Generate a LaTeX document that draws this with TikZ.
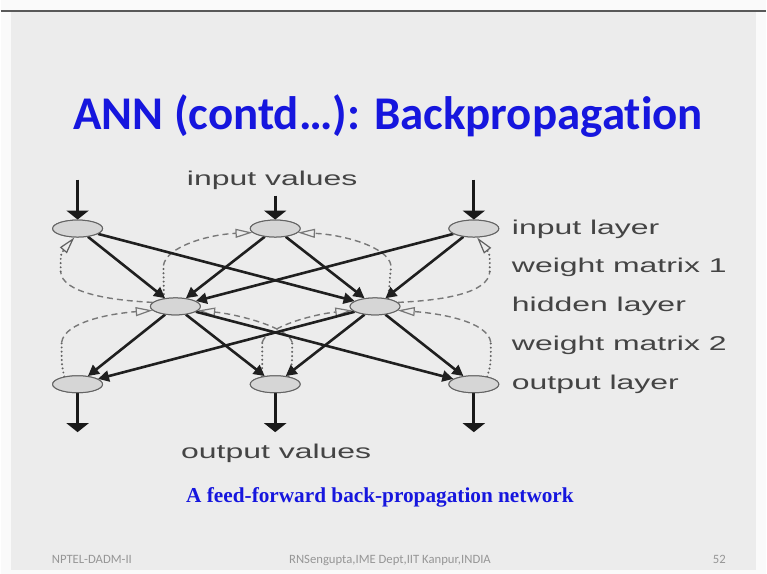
\documentclass[tikz,border=0pt]{standalone}
\usepackage{fontspec}
\setmainfont{Carlito}[Ligatures=NoCommon]
\newfontfamily\lblfont[FakeStretch=1.6]{Liberation Sans}
\newfontfamily\capfont{Liberation Serif}
\usetikzlibrary{arrows.meta,shapes.geometric}

\definecolor{pagewhite}{RGB}{250,250,250}
\definecolor{slidebg}{RGB}{236,236,236}
\definecolor{titleblue}{RGB}{22,22,222}
\definecolor{nodefill}{RGB}{214,214,214}
\definecolor{nodeedge}{RGB}{100,100,100}
\definecolor{labelgray}{RGB}{68,68,68}
\definecolor{backgray}{RGB}{120,120,120}
\definecolor{footgray}{RGB}{150,150,150}

\tikzset{
  neuron/.style={ellipse, draw=nodeedge, fill=nodefill, line width=1pt,
    minimum width=50pt, minimum height=17pt, inner sep=0pt},
  layerlabel/.style={anchor=base west, inner sep=0pt, text=labelgray,
    font=\lblfont\fontsize{20}{20}\selectfont},
  valuelabel/.style={anchor=base, inner sep=0pt, text=labelgray,
    font=\lblfont\fontsize{20}{20}\selectfont},
  weightline/.style={draw=black!88, line width=2.6pt,
    -{Triangle[length=11pt,width=11pt]}},
  ioarrow/.style={draw=black!90, line width=2.8pt,
    -{Triangle[length=9pt,width=22pt]}},
  backdash/.style={draw=backgray, line width=1.4pt, dash pattern=on 6pt off 4pt},
  backdot/.style={draw=backgray!80!black, line width=2.2pt, line cap=round,
    dash pattern=on 0pt off 4.2pt},
  backtip/.style={-{Triangle[open,length=17pt,width=9pt,line width=1.2pt]}},
  footnote/.style={inner sep=0pt, text=footgray, font=\fontsize{12.7}{12.7}\selectfont},
}

\begin{document}
\begin{tikzpicture}[x=1pt,y=-1pt]
  % page and slide
  \fill[pagewhite] (0,0) rectangle (767,575);
  \fill[slidebg] (10,11) rectangle (757,571);
  \draw[black!65, line width=1.5pt] (0,11) -- (767,11);
  \useasboundingbox (0,0) rectangle (767,575);

  % title
  \node[anchor=base, inner sep=0pt, text=titleblue,
        font=\bfseries\fontsize{47}{47}\selectfont] (title) at (388,130)
        {ANN (contd\ldots): Backpropagation};

  % neurons
  \node[neuron] (I1) at (77,229) {};
  \node[neuron] (I2) at (275,229) {};
  \node[neuron] (I3) at (474,229) {};
  \node[neuron] (H1) at (175,307) {};
  \node[neuron] (H2) at (375,307) {};
  \node[neuron] (O1) at (77,385) {};
  \node[neuron] (O2) at (275,385) {};
  \node[neuron] (O3) at (474,385) {};

  % free ends of the input and output arrows
  \coordinate (in1) at (77,180);
  \coordinate (in2) at (275,196);
  \coordinate (in3) at (474,180);
  \coordinate (out1) at (77,433);
  \coordinate (out2) at (275,433);
  \coordinate (out3) at (474,433);

  \draw[ioarrow] (in1) -- (I1);
  \draw[ioarrow] (in2) -- (I2);
  \draw[ioarrow] (in3) -- (I3);
  \draw[ioarrow] (O1) -- (out1);
  \draw[ioarrow] (O2) -- (out2);
  \draw[ioarrow] (O3) -- (out3);

  % error paths, hidden -> input (weight matrix 1)
  \coordinate (ma) at (60,272);
  \coordinate (mb) at (163,266);
  \coordinate (mc) at (391,266);
  \coordinate (md) at (490,272);
  \draw[backdash] (H1.170) .. controls (112,301) and (61,294) .. (ma);
  \draw[backdot, backtip] (ma) .. controls (60,254) .. (I1.250);
  \draw[backdot] (H1.145) -- (mb);
  \draw[backdash, backtip] (mb) .. controls (166,247) and (208,235) .. (I2.190);
  \draw[backdot] (H2.30) -- (mc);
  \draw[backdash, backtip] (mc) .. controls (388,247) and (342,235) .. (I2.350);
  \draw[backdash] (H2.10) .. controls (442,301) and (489,294) .. (md);
  \draw[backdot, backtip] (md) .. controls (490,254) .. (I3.290);

  % error paths, output -> hidden (weight matrix 2)
  \coordinate (me) at (61,343);
  \coordinate (mf) at (292,343);
  \coordinate (mg) at (262,343);
  \coordinate (mh) at (491,343);
  \draw[backdot] (O1.150) .. controls (61,366) .. (me);
  \draw[backdash, backtip] (me) .. controls (64,322) and (112,314) .. (H1.190);
  \draw[backdot] (O2.30) .. controls (292,366) .. (mf);
  \draw[backdash, backtip] (mf) .. controls (288,328) and (238,315) .. (H1.350);
  \draw[backdot] (O2.150) .. controls (262,366) .. (mg);
  \draw[backdash, backtip] (mg) .. controls (266,328) and (312,315) .. (H2.190);
  \draw[backdot] (O3.30) .. controls (491,366) .. (mh);
  \draw[backdash, backtip] (mh) .. controls (488,322) and (440,314) .. (H2.350);

  % weights, input -> hidden
  \foreach \a in {I1,I2,I3}
    \foreach \b in {H1,H2}
      \draw[weightline] (\a) -- (\b);
  % weights, hidden -> output
  \foreach \a in {H1,H2}
    \foreach \b in {O1,O2,O3}
      \draw[weightline] (\a) -- (\b);

  % redraw neurons on top of the lines
  \foreach \n in {I1,I2,I3,H1,H2,O1,O2,O3}
    \path[draw=nodeedge, fill=nodefill, line width=1pt]
      (\n.center) ellipse [x radius=25pt, y radius=8.5pt];

  % labels
  \node[valuelabel] (invals) at (272,186) {input values};
  \node[valuelabel] (outvals) at (276,459) {output values};
  \node[layerlabel] (lin) at (512,235) {input layer};
  \node[layerlabel] (lw1) at (512,273) {weight matrix 1};
  \node[layerlabel] (lhid) at (512,312) {hidden layer};
  \node[layerlabel] (lw2) at (512,351) {weight matrix 2};
  \node[layerlabel] (lout) at (512,390) {output layer};

  % caption
  \node[anchor=base, inner sep=0pt, text=titleblue,
        font=\capfont\bfseries\fontsize{21.3}{21.3}\selectfont] (caption) at (380,503)
        {A feed-forward back-propagation network};

  % footer
  \node[footnote, anchor=base west] (fl) at (51,565) {NPTEL-DADM-II};
  \node[footnote, anchor=base] (fc) at (390,565) {RNSengupta,IME Dept,IIT Kanpur,INDIA};
  \node[footnote, anchor=base] (fr) at (720,565) {52};
\end{tikzpicture}
\end{document}
